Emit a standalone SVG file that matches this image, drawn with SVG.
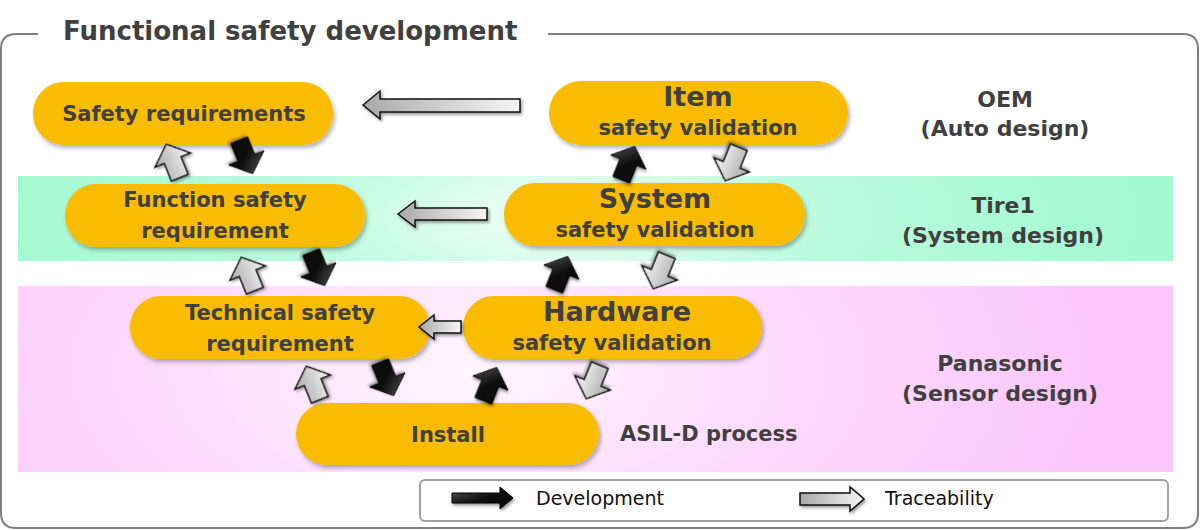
<svg xmlns="http://www.w3.org/2000/svg" width="1200" height="530" viewBox="0 0 1200 530">
<style>
.t{font-family:"DejaVu Sans","Open Sans",sans-serif;font-weight:bold;fill:#404040;text-anchor:middle}
.n{fill:#FABC05;filter:url(#sh)}
.big{font-size:27px}
.mid{font-size:21px}
.lab{font-size:22px}
.leg{font-family:"DejaVu Sans","Open Sans",sans-serif;font-size:19px;fill:#111}
.ga{fill:url(#gg);stroke:#111;stroke-width:1.5;filter:url(#ash)}
.ba{fill:url(#bg);stroke:#000;stroke-width:1;filter:url(#ash)}
</style>
<defs>
<filter id="sh" x="-10%" y="-20%" width="120%" height="150%">
<feDropShadow dx="2" dy="3" stdDeviation="2" flood-color="#000" flood-opacity="0.3"/>
</filter>
<filter id="ash" x="-30%" y="-30%" width="160%" height="160%">
<feDropShadow dx="1.5" dy="2" stdDeviation="1.5" flood-color="#000" flood-opacity="0.4"/>
</filter>
<linearGradient id="gg" x1="0" y1="0" x2="1" y2="0">
<stop offset="0" stop-color="#a9a9a9"/>
<stop offset="1" stop-color="#f6f6f6"/>
</linearGradient>
<linearGradient id="bg" x1="0" y1="0" x2="1" y2="1">
<stop offset="0" stop-color="#5a5a5a"/>
<stop offset="0.5" stop-color="#111"/>
<stop offset="1" stop-color="#000"/>
</linearGradient>
<radialGradient id="green" cx="560" cy="218" r="620" gradientUnits="userSpaceOnUse" gradientTransform="translate(560 218) scale(1 0.35) translate(-560 -218)">
<stop offset="0" stop-color="#f4fff9"/>
<stop offset="0.45" stop-color="#b8fbdc"/>
<stop offset="1" stop-color="#a0f9cf"/>
</radialGradient>
<radialGradient id="pink" cx="470" cy="370" r="650" gradientUnits="userSpaceOnUse" gradientTransform="translate(470 370) scale(1 0.5) translate(-470 -370)">
<stop offset="0" stop-color="#fff6ff"/>
<stop offset="0.5" stop-color="#fddafd"/>
<stop offset="1" stop-color="#fbc6fb"/>
</radialGradient>
<path id="ua" d="M0,-18 L19,-1 L9,-1 L9,18 L-9,18 L-9,-1 L-19,-1 Z"/>
</defs>

<!-- frame -->
<path d="M38,34 L16,34 Q1,34 1,49 L1,513 Q1,528 16,528 L1183,528 Q1198,528 1198,513 L1198,49 Q1198,34 1183,34 L548,34" fill="none" stroke="#7f7f7f" stroke-width="2"/>
<text x="63" y="40" class="t" style="text-anchor:start;font-size:26px">Functional safety development</text>

<!-- bands -->
<rect x="18" y="176" width="1155" height="85" fill="url(#green)"/>
<rect x="18" y="286" width="1155" height="186" fill="url(#pink)"/>

<!-- nodes -->
<g id="safety-requirements">
<rect class="n" x="33" y="82" width="300" height="63" rx="31"/>
<text class="t mid" x="184" y="121">Safety requirements</text>
</g>
<g id="item-validation">
<rect class="n" x="549" y="81" width="299" height="64" rx="32"/>
<text class="t big" x="698" y="106">Item</text>
<text class="t mid" x="698" y="135">safety validation</text>
</g>
<g id="function-safety">
<rect class="n" x="65" y="184" width="300" height="63" rx="31"/>
<text class="t mid" x="215" y="207">Function safety</text>
<text class="t mid" x="215" y="238">requirement</text>
</g>
<g id="system-validation">
<rect class="n" x="504" y="183" width="301" height="63" rx="31"/>
<text class="t big" x="655" y="208">System</text>
<text class="t mid" x="655" y="237">safety validation</text>
</g>
<g id="technical-safety">
<rect class="n" x="130" y="296" width="300" height="63" rx="31"/>
<text class="t mid" x="280" y="320">Technical safety</text>
<text class="t mid" x="280" y="351">requirement</text>
</g>
<g id="hardware-validation">
<rect class="n" x="463" y="296" width="299" height="63" rx="31"/>
<text class="t big" x="617" y="321">Hardware</text>
<text class="t mid" x="612" y="350">safety validation</text>
</g>
<g id="install">
<rect class="n" x="296" y="403" width="303" height="62" rx="31"/>
<text class="t mid" x="448" y="442">Install</text>
</g>

<!-- labels -->
<g id="labels">
<text class="t lab" x="1005" y="107">OEM</text>
<text class="t lab" x="1005" y="136">(Auto design)</text>
<text class="t lab" x="1003" y="213">Tire1</text>
<text class="t lab" x="1003" y="243">(System design)</text>
<text class="t lab" x="1000" y="371">Panasonic</text>
<text class="t lab" x="1000" y="401">(Sensor design)</text>
<text class="t mid" x="620" y="441" style="text-anchor:start">ASIL-D process</text>
</g>

<!-- connectors -->
<g id="connectors">
<path class="ga" d="M363,105 L380,91 L380,99 L520,99 L520,112 L380,112 L380,119 Z"/>
<path class="ga" d="M398,214 L415,201 L415,208 L487,208 L487,220 L415,220 L415,227 Z"/>
<path class="ga" d="M419,327 L434,315 L434,321 L461,321 L461,333 L434,333 L434,339 Z"/>

<use href="#ua" class="ga" transform="translate(173,161) rotate(-22)"/>
<use href="#ua" class="ba" transform="translate(246,157) rotate(158)"/>
<use href="#ua" class="ba" transform="translate(628,163) rotate(22)"/>
<use href="#ua" class="ga" transform="translate(732,164) rotate(202)"/>

<use href="#ua" class="ga" transform="translate(248,274) rotate(-22)"/>
<use href="#ua" class="ba" transform="translate(318,269) rotate(158)"/>
<use href="#ua" class="ba" transform="translate(561,273) rotate(22)"/>
<use href="#ua" class="ga" transform="translate(660,272) rotate(202)"/>

<use href="#ua" class="ga" transform="translate(313,383) rotate(-22)"/>
<use href="#ua" class="ba" transform="translate(387,379) rotate(158)"/>
<use href="#ua" class="ba" transform="translate(490,384) rotate(22)"/>
<use href="#ua" class="ga" transform="translate(593,382) rotate(202)"/>
</g>

<!-- legend -->
<g id="legend">
<rect x="420" y="480" width="748" height="41" rx="5" fill="#fff" stroke="#a0a0a0" stroke-width="2"/>
<path class="ba" d="M452,493 L500,493 L500,487 L513,498 L500,509 L500,503 L452,503 Z"/>
<text class="leg" x="536" y="505">Development</text>
<path class="ga" d="M800,493 L850,493 L850,487 L864,499 L850,511 L850,505 L800,505 Z"/>
<text class="leg" x="885" y="505">Traceability</text>
</g>
</svg>
